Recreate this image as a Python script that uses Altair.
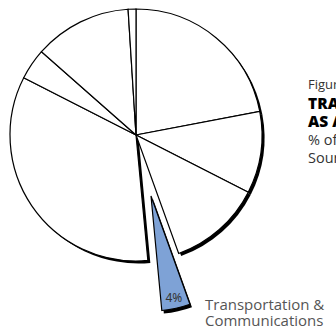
import altair as alt
import pandas as pd

# ---- data (share of total, %) ----
sectors = ["Sector A", "Sector B", "Sector C", "Transportation & Communications",
           "Sector E", "Sector F", "Sector G", "Sector H"]
shares = [22, 10.5, 12, 4, 34, 4, 12.5, 1]
highlight = "Transportation & Communications"
highlight_label = "4%"
callout_label = ["Transportation &", "Communications"]
title_lines = ["Figure 4", "TRANSPORTATION & COMMUNICATIONS", "AS A SHARE OF GDP",
               "% of GDP", "Source: national accounts"]

# ---- build table ----
df = pd.DataFrame({"sector": sectors, "share": shares})
df["end"] = df["share"].cumsum()
df["start"] = df["end"] - df["share"]
df["mid"] = (df["start"] + df["end"]) / 2
df["label"] = [highlight_label if s == highlight else "" for s in sectors]

W, H = 336, 334
CX, CY, R = 136, 135, 126
BX, BY, BR = 151, 196, 115
SH = 2.5

theta_scale = alt.Scale(domain=[0, 100], range=[0, 6.283185307179586])
pos_scale = alt.Scale(domain=[0, H], range=[0, H])

base = alt.Chart(df)
rest = base.transform_filter(alt.datum.sector != highlight)
hl = base.transform_filter(alt.datum.sector == highlight)

enc = dict(
    theta=alt.Theta("start:Q", scale=theta_scale),
    theta2="end:Q",
)

shadow = rest.mark_arc(radius=R, fill="black", strokeWidth=0).encode(
    x=alt.value(CX + SH), y=alt.value(CY + SH), **enc)
main = rest.mark_arc(radius=R, fill="white", stroke="black", strokeWidth=1.2).encode(
    x=alt.value(CX), y=alt.value(CY), **enc)
hl_shadow = hl.mark_arc(radius=BR, fill="black", strokeWidth=0).encode(
    x=alt.value(BX + 2), y=alt.value(BY + 3), **enc)
hl_main = hl.mark_arc(radius=BR, fill="#7ea2d6", stroke="black", strokeWidth=1.2).encode(
    x=alt.value(BX), y=alt.value(BY), **enc)
hl_text = hl.mark_text(radius=105, font="Noto Sans", fontSize=12, color="#333333").encode(
    x=alt.value(BX), y=alt.value(BY),
    theta=alt.Theta("mid:Q", scale=theta_scale),
    text="label:N")

callout_df = pd.DataFrame({"t": callout_label, "y": [304.5, 321]})
callout = alt.Chart(callout_df).mark_text(
    align="left", baseline="middle", font="Open Sans", fontSize=15, color="#555555",
).encode(x=alt.value(205), y=alt.Y("y:Q", scale=pos_scale, axis=None), text="t:N")

title_df = pd.DataFrame({
    "t": title_lines,
    "y": [85, 104, 122, 141, 159],
    "w": ["normal", "bold", "bold", "normal", "normal"],
    "s": [13, 15.5, 15.5, 14.5, 14.5],
})
t_regular = alt.Chart(title_df).transform_filter(alt.datum.w == "normal").mark_text(
    align="left", baseline="middle", font="Open Sans", color="#333333"
).encode(x=alt.value(308), y=alt.Y("y:Q", scale=pos_scale, axis=None),
         size=alt.Size("s:Q", scale=None, legend=None), text="t:N")
t_bold = alt.Chart(title_df).transform_filter(alt.datum.w == "bold").mark_text(
    align="left", baseline="middle", font="Open Sans", fontWeight=800, color="#000000"
).encode(x=alt.value(308), y=alt.Y("y:Q", scale=pos_scale, axis=None),
         size=alt.Size("s:Q", scale=None, legend=None), text="t:N")

chart = alt.layer(shadow, main, hl_shadow, hl_main, hl_text, callout, t_regular, t_bold).properties(
    width=W, height=H, padding=0,
    autosize=alt.AutoSizeParams(type="none"),
    background="white",
).configure_view(strokeWidth=0)

chart.save("out.html", embed_options={"renderer": "svg", "actions": False})
